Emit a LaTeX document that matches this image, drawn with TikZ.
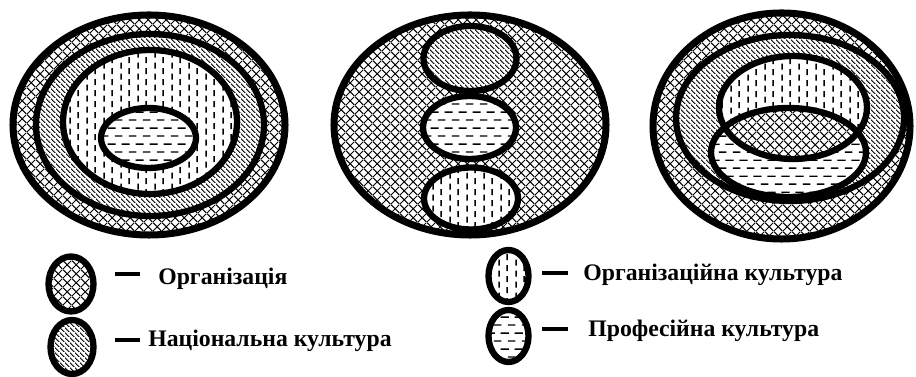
\documentclass[tikz,border=0pt]{standalone}
\usepackage{fontspec}
\setmainfont{Liberation Serif}
\usetikzlibrary{patterns.meta, positioning}

% --- Fill patterns ---
\tikzdeclarepattern{
  name=diag cross,
  type=uncolored,
  bottom left={(0pt,0pt)},
  top right={(5.2pt,5.2pt)},
  tile size={(5.2pt,5.2pt)},
  code={
    \draw[line width=0.6pt] (0pt,0pt) -- (5.2pt,5.2pt) (0pt,5.2pt) -- (5.2pt,0pt);
  }
}
\tikzdeclarepattern{
  name=back lines,
  type=uncolored,
  bottom left={(0pt,0pt)},
  top right={(2.6pt,2.6pt)},
  tile size={(2.6pt,2.6pt)},
  code={
    \draw[line width=0.55pt] (-0.5pt,3.1pt) -- (3.1pt,-0.5pt);
  }
}
\tikzdeclarepattern{
  name=vert dashes,
  type=uncolored,
  bottom left={(0pt,0pt)},
  top right={(9.4pt,6.2pt)},
  tile size={(9.4pt,6.2pt)},
  code={
    \draw[line width=0.9pt] (2.35pt,1.4pt) -- (2.35pt,4.8pt);
    \draw[line width=0.9pt] (7.05pt,-1.7pt) -- (7.05pt,1.7pt)
                            (7.05pt,4.5pt) -- (7.05pt,7.9pt);
  }
}
\tikzdeclarepattern{
  name=horiz dashes,
  type=uncolored,
  bottom left={(0pt,0pt)},
  top right={(8pt,9pt)},
  tile size={(8pt,9pt)},
  code={
    \draw[line width=0.8pt] (1.75pt,2.25pt) -- (6.25pt,2.25pt);
    \draw[line width=0.8pt] (-2.25pt,6.75pt) -- (2.25pt,6.75pt)
                            (5.75pt,6.75pt) -- (10.25pt,6.75pt);
  }
}

\begin{document}
\begin{tikzpicture}[x=0.02cm, y=-0.02cm]
    % --- Style Definitions ---
    \tikzset{
        zone/.style={
            preaction={fill=white},
            pattern=#1,
            draw=black,
            line width=3.6pt
        },
        rim/.style={
            draw=black,
            line width=3.6pt
        },
        key text/.style={
            font=\fontsize{13.5}{16}\selectfont\bfseries,
            anchor=base west,
            inner sep=0pt
        },
        key dash/.style={
            line width=2.4pt
        }
    }

    \useasboundingbox (0,0) rectangle (916,377);

    % --- 1. Left: nested rings ---
    \draw[zone=diag cross, line width=4pt] (149,125) ellipse [x radius=136, y radius=110];
    \draw[zone=back lines] (150,125) ellipse [x radius=114, y radius=91];
    \draw[zone=vert dashes] (150,122) ellipse [x radius=87, y radius=72];
    \draw[zone=horiz dashes] (148.5,138) ellipse [x radius=47.5, y radius=30];

    % --- 2. Middle: three cells in a column ---
    \draw[zone=diag cross, line width=4pt] (470,125) ellipse [x radius=136, y radius=110];
    \draw[zone=back lines] (470,58.5) ellipse [x radius=46.5, y radius=32.5];
    \draw[zone=horiz dashes] (469.5,127.5) ellipse [x radius=46.5, y radius=31.5];
    \draw[zone=vert dashes] (471,198.5) ellipse [x radius=47, y radius=31];

    % --- 3. Right: two overlapping cells ---
    \draw[zone=diag cross, line width=4pt] (781.5,126) ellipse [x radius=128.5, y radius=113];
    \draw[zone=back lines] (790,118) ellipse [x radius=114, y radius=83];
    \fill[white] (793,107.5) ellipse [x radius=74, y radius=51.5];
    \fill[pattern=vert dashes] (793,107.5) ellipse [x radius=74, y radius=51.5];
    \fill[white] (788.5,152.5) ellipse [x radius=77.5, y radius=44.5];
    \fill[pattern=horiz dashes] (788.5,152.5) ellipse [x radius=77.5, y radius=44.5];
    % overlap of the two cells
    \begin{scope}
        \clip (793,107.5) ellipse [x radius=74, y radius=51.5];
        \fill[white] (788.5,152.5) ellipse [x radius=77.5, y radius=44.5];
        \fill[pattern=diag cross] (788.5,152.5) ellipse [x radius=77.5, y radius=44.5];
    \end{scope}
    \draw[rim] (793,107.5) ellipse [x radius=74, y radius=51.5];
    \draw[rim] (788.5,152.5) ellipse [x radius=77.5, y radius=44.5];

    % --- 4. Legend ---
    \draw[zone=diag cross] (71,284) ellipse [x radius=22.5, y radius=27.5];
    \draw[zone=back lines] (72,347) ellipse [x radius=21.5, y radius=27];
    \draw[zone=vert dashes] (508.5,276) ellipse [x radius=20, y radius=26];
    \draw[zone=horiz dashes] (508.5,336) ellipse [x radius=20, y radius=26];

    \node[key text] (org) at (158,285) {Організація};
    \node[key text] (nat) at (148,347) {Національна культура};
    \node[key text] (orgcult) at (583,281) {Організаційна культура};
    \node[key text] (prof) at (588,337) {Професійна культура};

    \draw[key dash] (115,274) -- (140,274);
    \draw[key dash] (115,340) -- (140,340);
    \draw[key dash] (542,273) -- (568,273);
    \draw[key dash] (542,329) -- (568,329);

\end{tikzpicture}
\end{document}
